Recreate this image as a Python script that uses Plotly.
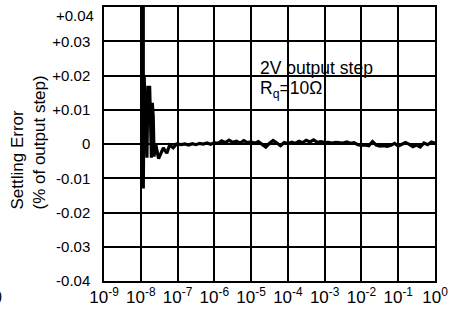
import plotly.graph_objects as go

# ---- data ----
# settling-error trace (time in seconds, error in % of output step)
spike_t = [1.17e-8, 1.17e-8, 1.24e-8, 1.31e-8, 1.39e-8, 1.47e-8, 1.56e-8, 1.65e-8,
           1.74e-8, 1.84e-8, 1.95e-8, 2.06e-8, 2.18e-8, 2.30e-8, 2.45e-8, 2.60e-8,
           3.05e-8, 4.10e-8, 5.10e-8, 6.10e-8, 7.60e-8, 9.40e-8]
spike_v = [0.10, -0.013, 0.020, 0.009, 0.013, -0.004, 0.017, 0.008,
           0.017, 0.007, -0.004, 0.012, 0.008, -0.0037, 0.0, -0.0005,
           -0.0043, -0.0011, -0.0027, -0.0003, -0.0011, 0.0]

noise_t = [1.26e-7, 1.58e-7, 2.00e-7, 2.51e-7, 3.16e-7, 3.98e-7, 5.01e-7, 6.31e-7, 7.94e-7,
           1.00e-6, 1.26e-6, 1.58e-6, 2.00e-6, 2.51e-6, 3.16e-6, 3.98e-6, 5.01e-6, 6.31e-6, 7.94e-6,
           1.00e-5, 1.26e-5, 1.58e-5, 2.00e-5, 2.51e-5, 3.16e-5, 3.98e-5, 5.01e-5, 6.31e-5, 7.94e-5,
           1.00e-4, 1.26e-4, 1.58e-4, 2.00e-4, 2.51e-4, 3.16e-4, 3.98e-4, 5.01e-4, 6.31e-4, 7.94e-4,
           1.00e-3, 1.26e-3, 1.58e-3, 2.00e-3, 2.51e-3, 3.16e-3, 3.98e-3, 5.01e-3, 6.31e-3, 7.94e-3,
           1.00e-2, 1.26e-2, 1.58e-2, 2.00e-2, 2.51e-2, 3.16e-2, 3.98e-2, 5.01e-2, 6.31e-2, 7.94e-2,
           1.00e-1, 1.26e-1, 1.58e-1, 2.00e-1, 2.51e-1, 3.16e-1, 3.98e-1, 5.01e-1, 6.31e-1, 7.94e-1,
           1.00]
noise_v = [-0.0002, 0.0000, -0.0003, 0.0001, -0.0002, 0.0002, 0.0000, 0.0003, -0.0001,
           0.0004, 0.0002, 0.0009, 0.0004, 0.0011, 0.0005, 0.0008, 0.0003, 0.0010, 0.0004,
           0.0006, 0.0002, 0.0007, -0.0001, -0.0009, 0.0002, 0.0010, 0.0003, -0.0005, 0.0004,
           0.0001, 0.0005, 0.0002, 0.0008, 0.0004, 0.0011, 0.0006, 0.0012, 0.0005, 0.0007,
           0.0004, 0.0005, 0.0003, 0.0005, 0.0004, 0.0003, 0.0006, 0.0002, 0.0004, -0.0002,
           -0.0004, -0.0003, -0.0005, 0.0007, -0.0003, -0.0006, -0.0005, -0.0007, -0.0004, 0.0002,
           -0.0006, -0.0002, 0.0004, -0.0001, -0.0008, -0.0003, -0.0009, 0.0003, -0.0002, 0.0006,
           0.0002]

x_tickvals = [1e-9, 1e-8, 1e-7, 1e-6, 1e-5, 1e-4, 1e-3, 1e-2, 1e-1, 1e0]
x_ticktext = ["10<sup>-9</sup>", "10<sup>-8</sup>", "10<sup>-7</sup>", "10<sup>-6</sup>",
              "10<sup>-5</sup>", "10<sup>-4</sup>", "10<sup>-3</sup>", "10<sup>-2</sup>",
              "10<sup>-1</sup>", "10<sup>0</sup>"]
y_tickvals = [0.03, 0.02, 0.01, 0.0, -0.01, -0.02, -0.03, -0.04]
y_ticktext = ["+0.03", "+0.02", "+0.01", "0", "-0.01", "-0.02", "-0.03", "-0.04"]
y_top_label = "+0.04"

t = spike_t + noise_t
v = spike_v + noise_v

FONT = "Arial, Liberation Sans, Helvetica, sans-serif"

fig = go.Figure()
fig.add_trace(go.Scatter(x=t, y=v, mode="lines",
                         line=dict(color="black", width=3.2), showlegend=False))

fig.update_layout(
    width=465, height=312,
    margin=dict(l=104, r=30, t=5, b=27),
    paper_bgcolor="white", plot_bgcolor="white",
    font=dict(family=FONT, size=16, color="black"),
    xaxis=dict(type="log", range=[-9, 0], tickvals=x_tickvals, ticktext=x_ticktext,
               showgrid=True, gridcolor="black", gridwidth=1.5,
               showline=True, linecolor="black", linewidth=1.5, mirror=True,
               ticks="", tickfont=dict(size=17), zeroline=False),
    yaxis=dict(range=[-0.04, 0.04], tickvals=y_tickvals, ticktext=y_ticktext,
               showgrid=True, gridcolor="black", gridwidth=1.5,
               showline=True, linecolor="black", linewidth=1.5, mirror=True,
               ticks="", ticklabelstandoff=9, tickfont=dict(size=15), zeroline=False),
    annotations=[
        dict(text=y_top_label, x=0, y=1.0, xref="paper", yref="paper",
             xanchor="right", yanchor="top", xshift=-8, yshift=2, showarrow=False,
             font=dict(size=15)),
        dict(text="2V output step", x=0.465, y=0.779, xref="paper", yref="paper",
             xanchor="left", yanchor="middle", showarrow=False, font=dict(size=17.5)),
        dict(text="R<sub>q</sub>=10Ω", x=0.465, y=0.70, xref="paper", yref="paper",
             xanchor="left", yanchor="middle", showarrow=False, font=dict(size=17.5)),
        dict(text="Settling Error<br>(% of output step)", x=-0.227, y=0.505,
             xref="paper", yref="paper", xanchor="center", yanchor="middle", align="left",
             textangle=-90, showarrow=False, font=dict(size=17)),
        dict(text="0", x=-0.303, y=-0.061, xref="paper", yref="paper",
             xanchor="right", yanchor="middle", showarrow=False, font=dict(size=16)),
    ],
)

fig.write_html("out.html", post_script="document.body.style.margin='0';",
               config={"displayModeBar": False})
